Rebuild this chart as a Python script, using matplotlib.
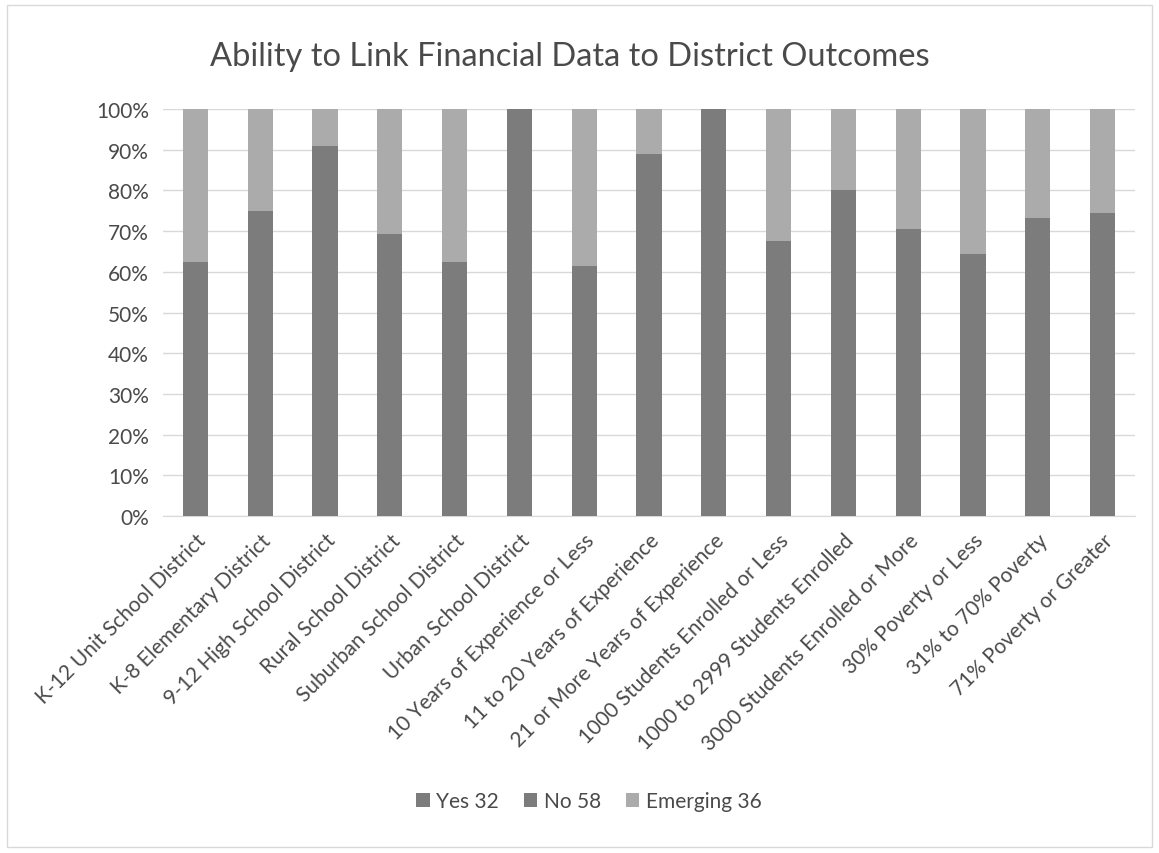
import numpy as np
import matplotlib
matplotlib.use("Agg")
from matplotlib import pyplot as plt
from matplotlib.patches import Rectangle
from matplotlib.ticker import PercentFormatter

plt.rcParams['font.family'] = ['Lato', 'DejaVu Sans']

# district groups along the x axis
categories = [
    "K-12 Unit School District",
    "K-8 Elementary District",
    "9-12 High School District",
    "Rural School District",
    "Suburban School District",
    "Urban School District",
    "10 Years of Experience or Less",
    "11 to 20 Years of Experience",
    "21 or More Years of Experience",
    "1000 Students Enrolled or Less",
    "1000 to 2999 Students Enrolled",
    "3000 Students Enrolled or More",
    "30% Poverty or Less",
    "31% to 70% Poverty",
    "71% Poverty or Greater",
]

# share of responses in each group (percent)
yes_pct = [25.0, 25.0, 36.4, 23.1, 25.0, 40.0, 23.1, 33.3, 28.6, 20.6, 26.7, 22.2, 21.4, 26.7, 25.5]
no_pct = [37.5, 50.0, 54.5, 46.1, 37.5, 60.0, 38.4, 55.6, 71.4, 47.0, 53.3, 48.2, 42.9, 46.6, 49.0]
emerging_pct = [37.5, 25.0, 9.1, 30.8, 37.5, 0.0, 38.5, 11.1, 0.0, 32.4, 20.0, 29.6, 35.7, 26.7, 25.5]

series_labels = ["Yes 32", "No 58", "Emerging 36"]
colors = ["#7c7c7c", "#7c7c7c", "#ababab"]
text_col = "#4a4a4a"

fig = plt.figure(figsize=(11.59, 8.54), dpi=100)
ax = fig.add_axes([163 / 1159, 1 - 517 / 854, (1135 - 163) / 1159, (517 - 110) / 854])

x = np.arange(len(categories))
yes = np.array(yes_pct)
no = np.array(no_pct)
em = np.array(emerging_pct)
w = 0.39
ax.bar(x, yes, w, color=colors[0], label=series_labels[0], zorder=3)
ax.bar(x, no, w, bottom=yes, color=colors[1], label=series_labels[1], zorder=3)
ax.bar(x, em, w, bottom=yes + no, color=colors[2], label=series_labels[2], zorder=3)

ax.set_xlim(-0.5, len(categories) - 0.5)
ax.set_ylim(0, 100)
ax.set_yticks(np.arange(0, 101, 10))
ax.yaxis.set_major_formatter(PercentFormatter(decimals=0))
ax.grid(axis='y', color='#d9d9d9', lw=1, zorder=0)
for s in ['top', 'right', 'left']:
    ax.spines[s].set_visible(False)
ax.spines['bottom'].set_color('#d9d9d9')
ax.tick_params(axis='both', length=0, labelsize=15, colors=text_col, pad=10)
ax.set_xticks(x)
ax.set_xticklabels(categories, rotation=45, ha='right', rotation_mode='anchor')

fig.text(0.492, 1 - 57 / 854, "Ability to Link Financial Data to District Outcomes",
         ha='center', va='center', fontsize=23.5, color=text_col)

fig.legend(loc='center', bbox_to_anchor=(0.508, 1 - 802 / 854), ncol=3, frameon=False,
           fontsize=15, labelcolor=text_col, handlelength=0.65, handleheight=0.65,
           handletextpad=0.3, columnspacing=1.2)

# light frame around the chart area
fig.patches.append(Rectangle((7 / 1159, 6 / 854), 1 - 14 / 1159, 1 - 12 / 854,
                             transform=fig.transFigure, fill=False,
                             edgecolor='#d9d9d9', lw=1))

fig.savefig("out.png", dpi=100, facecolor='white')
